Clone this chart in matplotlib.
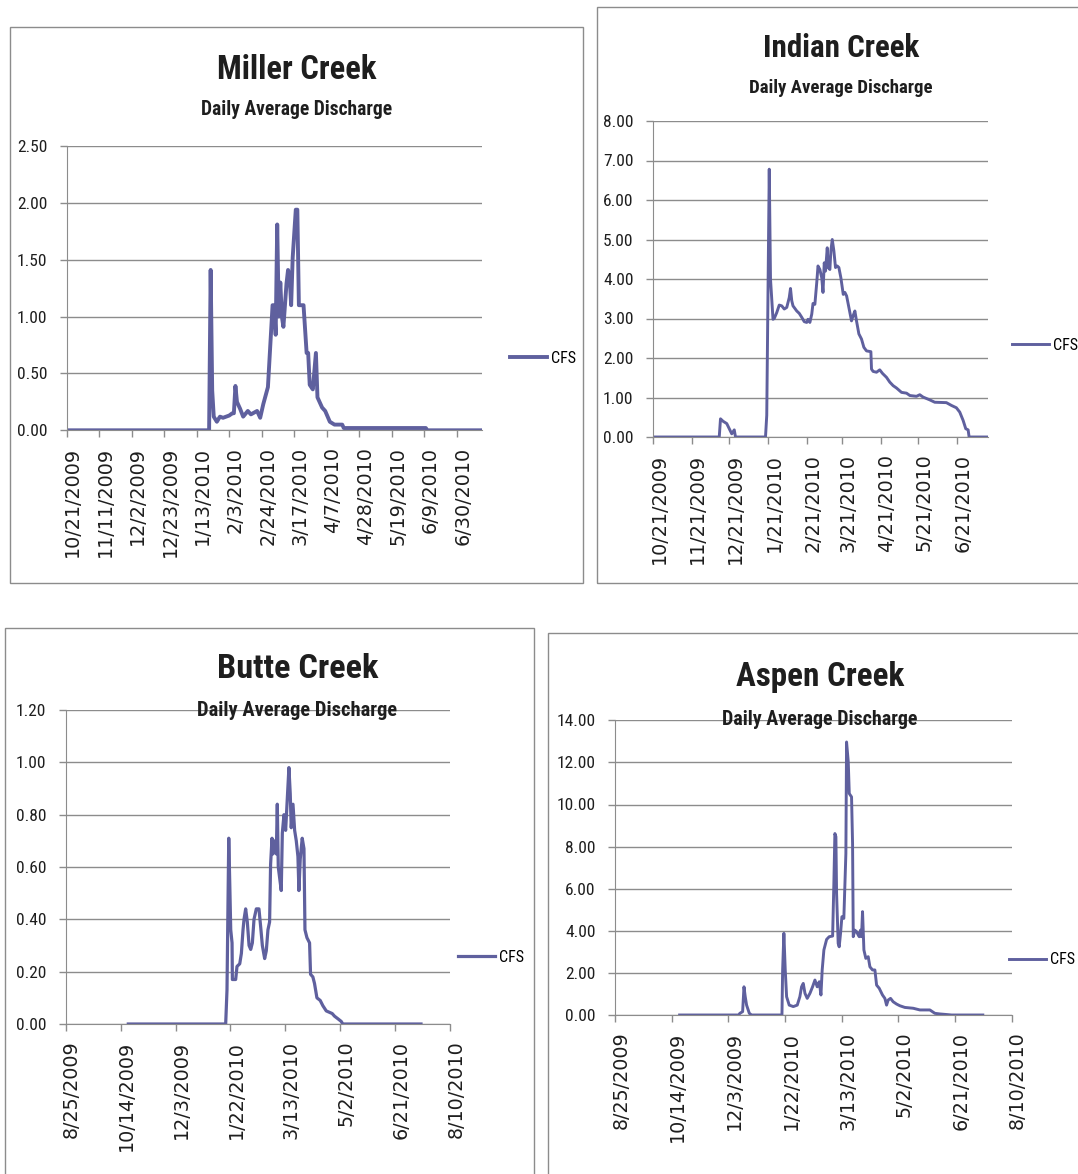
import datetime as dt
import numpy as np
import matplotlib
matplotlib.use('Agg')
import matplotlib.pyplot as plt
import matplotlib.dates as mdates
from matplotlib import font_manager
from matplotlib.font_manager import FontProperties
from matplotlib.patches import Rectangle
from matplotlib.ticker import FormatStrFormatter
from matplotlib.transforms import ScaledTranslation

W, H = 1078, 1174
start = dt.date(2009, 10, 21)   # day 0 of every series

# Miller Creek - days after 10/21/2009, daily average discharge (CFS)
miller_day = [0, 92, 93, 94, 95, 97, 99, 101, 103, 105, 107, 108, 109, 110, 112, 114, 117, 119,
              123, 125, 127, 129, 130, 131, 133, 134, 135, 136, 137, 138, 139, 140, 142, 143, 144,
              145, 146, 148, 149, 150, 153, 155, 156, 157, 159, 161, 162, 165, 167, 170, 173, 178,
              179, 232, 233, 268]
miller_cfs = [0, 0, 1.41, 0.35, 0.12, 0.075, 0.12, 0.11, 0.12, 0.13, 0.15, 0.15, 0.39, 0.25, 0.19,
              0.12, 0.17, 0.14, 0.17, 0.11, 0.23, 0.33, 0.38, 0.62, 1.10, 1.10, 0.84, 1.81, 1.00,
              1.30, 1.00, 0.91, 1.29, 1.41, 1.36, 1.10, 1.52, 1.94, 1.94, 1.10, 1.10, 0.68, 0.68,
              0.40, 0.36, 0.68, 0.29, 0.20, 0.17, 0.075, 0.05, 0.05, 0.02, 0.02, 0, 0]

# Indian Creek
indian_day = [0, 53, 54, 56, 59, 61, 63, 65, 66, 90, 91, 93, 94, 96, 97, 99, 101, 103, 105, 107,
              109, 110, 111, 112, 115, 117, 119, 121, 123, 124, 125.5, 127, 128, 129.5, 131, 132,
              133.5, 135, 136, 137, 138, 139.4, 140.2, 141.5, 142.3, 143.4, 144.7, 146, 147.4,
              148.7, 150.3, 152.2, 153.5, 154.9, 156.7, 158.8, 160.1, 161.5, 162.8, 164.7, 166.8,
              168.7, 170.8, 174.3, 174.8, 176.1, 178.8, 181.4, 183.6, 186.8, 189.4, 192.1, 194.8,
              198.8, 202.8, 205.5, 210.8, 213.4, 216.1, 221.4, 225.4, 234.7, 238.7, 242.7, 245.4,
              248.1, 250.2, 252.1, 252.9, 268]
indian_cfs = [0, 0, 0.46, 0.40, 0.34, 0.21, 0.08, 0.18, 0, 0, 0.55, 6.78, 4.0, 2.98, 3.0, 3.15,
              3.34, 3.32, 3.24, 3.28, 3.53, 3.76, 3.45, 3.32, 3.19, 3.13, 3.03, 2.92, 2.90, 2.98,
              2.90, 3.11, 3.38, 3.36, 3.91, 4.33, 4.24, 4.03, 3.66, 4.41, 4.20, 4.79, 4.29, 4.24,
              4.71, 5.0, 4.71, 4.29, 4.33, 4.29, 4.03, 3.61, 3.66, 3.57, 3.28, 2.94, 3.07, 3.19,
              2.94, 2.61, 2.48, 2.27, 2.18, 2.16, 1.72, 1.66, 1.64, 1.70, 1.61, 1.51, 1.39, 1.30,
              1.24, 1.13, 1.11, 1.05, 1.03, 1.07, 1.01, 0.94, 0.88, 0.87, 0.80, 0.74, 0.63, 0.42,
              0.21, 0.18, 0, 0]

# Butte Creek
butte_day = [0, 88.7, 89.9, 91.5, 92.4, 93.3, 94.5, 94.8, 97.8, 99.0, 101.5, 103.0, 104.5, 105.4,
             106.9, 108.4, 110.0, 111.5, 113.0, 114.5, 116.6, 119.0, 120.6, 122.1, 124.2, 125.7,
             127.2, 128.7, 129.6, 130.9, 131.8, 133.3, 134.8, 135.7, 136.6, 137.8, 139.3, 140.3,
             141.8, 143.3, 144.8, 146.3, 147.5, 148.4, 150.0, 151.5, 153.0, 154.5, 155.4, 156.6,
             158.4, 160.0, 160.9, 162.7, 165.1, 166.0, 168.1, 169.6, 171.8, 174.8, 177.2, 180.3,
             185.7, 187.8, 190.9, 193.9, 195.4, 266.6]
butte_cfs = [0, 0, 0.13, 0.71, 0.54, 0.36, 0.31, 0.17, 0.17, 0.22, 0.23, 0.27, 0.36, 0.40, 0.44,
             0.39, 0.30, 0.285, 0.31, 0.40, 0.44, 0.44, 0.37, 0.30, 0.25, 0.28, 0.36, 0.39, 0.61,
             0.71, 0.65, 0.70, 0.65, 0.84, 0.60, 0.56, 0.51, 0.73, 0.80, 0.74, 0.86, 0.98, 0.88,
             0.75, 0.84, 0.74, 0.70, 0.64, 0.51, 0.63, 0.71, 0.67, 0.36, 0.33, 0.31, 0.19, 0.18,
             0.155, 0.10, 0.09, 0.07, 0.05, 0.04, 0.03, 0.02, 0.01, 0, 0]

# Aspen Creek
aspen_day = [0, 52, 53.2, 55.6, 56.8, 57.9, 59.1, 61.5, 63.5, 90.3, 90.9, 92.0, 93.2, 94.4, 96.7,
             100.3, 103.8, 106.1, 107.6, 109.1, 110.6, 112.6, 115.0, 117.3, 119.4, 121.4, 123.2,
             124.7, 125.8, 127.3, 129.7, 132.0, 135.0, 136.1, 137.0, 137.9, 138.5, 139.9, 140.8,
             142.0, 143.2, 144.9, 146.7, 147.3, 148.8, 149.7, 151.7, 152.6, 153.2, 154.6, 156.1,
             157.6, 158.5, 159.6, 160.5, 161.4, 162.6, 164.3, 166.4, 167.9, 170.2, 172.3, 173.8,
             176.1, 179.0, 181.1, 182.6, 184.0, 186.1, 188.4, 191.4, 194.3, 198.7, 206.1, 212.0,
             220.8, 225.2, 229.6, 236, 240, 267.5]
aspen_cfs = [0, 0, 0.08, 0.16, 1.34, 0.87, 0.47, 0.08, 0, 0, 2.14, 3.88, 2.14, 0.87, 0.47, 0.40,
             0.47, 0.87, 1.34, 1.50, 1.03, 0.79, 1.03, 1.34, 1.66, 1.34, 1.58, 0.95, 2.14, 3.09,
             3.59, 3.72, 3.75, 6.25, 8.62, 8.47, 5.78, 3.40, 3.24, 3.88, 4.67, 4.59, 7.67, 12.97,
             12.03, 10.52, 10.36, 8.15, 3.72, 4.03, 3.96, 3.80, 3.72, 4.03, 3.72, 4.91, 3.09, 2.69,
             2.77, 2.29, 2.14, 2.14, 1.42, 1.27, 0.95, 0.79, 0.47, 0.71, 0.79, 0.63, 0.52, 0.44,
             0.36, 0.32, 0.24, 0.24, 0.08, 0.05, 0.02, 0, 0]

miller_ticks = ['10/21/2009', '11/11/2009', '12/2/2009', '12/23/2009', '1/13/2010', '2/3/2010',
                '2/24/2010', '3/17/2010', '4/7/2010', '4/28/2010', '5/19/2010', '6/9/2010',
                '6/30/2010']
indian_ticks = ['10/21/2009', '11/21/2009', '12/21/2009', '1/21/2010', '2/21/2010', '3/21/2010',
                '4/21/2010', '5/21/2010', '6/21/2010']
late_ticks = ['8/25/2009', '10/14/2009', '12/3/2009', '1/22/2010', '3/13/2010', '5/2/2010',
              '6/21/2010', '8/10/2010']

LINE = '#5f609e'
GRAY = '#8c8c8c'
INK = '#1e1e1e'

# look for a narrow / condensed face (the Excel text is very tight)
entries = [(f.name, f.stretch) for f in font_manager.fontManager.ttflist]
narrow = None
for fam in ['Liberation Sans Narrow', 'Roboto Condensed', 'Open Sans Condensed',
            'Noto Sans Condensed', 'DejaVu Sans Condensed']:
    if any(n == fam for n, s in entries):
        narrow = {'family': fam}
        break
if narrow is None:
    for n, s in entries:
        if n in ('DejaVu Sans', 'Noto Sans', 'Open Sans', 'Roboto') and 'condensed' in str(s):
            narrow = {'family': n, 'stretch': s}
            break
if narrow is None:
    narrow = {'family': 'DejaVu Sans'}


def nfont(size, weight='normal'):
    return FontProperties(size=size, weight=weight, **narrow)


fig = plt.figure(figsize=(W / 100, H / 100), dpi=100)
renderer = fig.canvas.get_renderer()
t0 = mdates.date2num(start)


def to_num(s):
    return mdates.date2num(dt.datetime.strptime(s, '%m/%d/%Y'))


def fit(txt, width_px):
    w = txt.get_window_extent(renderer).width
    txt.set_fontsize(txt.get_fontsize() * width_px / w)


def panel(box, axbox, title, tpos, spos, days, cfs, ymax, ystep, ticks, xlim, leg, lw):
    x0, y0, x1, y1 = box
    fig.add_artist(Rectangle((x0 / W, 1 - y1 / H), (x1 - x0) / W, (y1 - y0) / H,
                             transform=fig.transFigure, fill=False, edgecolor=GRAY, lw=1))
    l, t, r, b = axbox
    ax = fig.add_axes([l / W, 1 - b / H, (r - l) / W, (b - t) / H])
    ax.plot(t0 + np.array(days), cfs, color=LINE, lw=lw, label='CFS', solid_joinstyle='round')
    ax.set_xlim(xlim)
    ax.set_ylim(0, ymax)
    ax.set_yticks(np.arange(0, ymax + ystep / 2, ystep))
    ax.yaxis.set_major_formatter(FormatStrFormatter('%.2f'))
    ax.set_xticks([to_num(s) for s in ticks])
    ax.set_xticklabels(ticks, rotation=90, fontsize=13.8, family='DejaVu Sans')
    ax.grid(axis='y', color=GRAY, lw=1)
    ax.set_axisbelow(True)
    for s in ['top', 'right']:
        ax.spines[s].set_visible(False)
    for s in ['left', 'bottom']:
        ax.spines[s].set_color(GRAY)
    ax.tick_params(axis='both', colors=GRAY, labelcolor=INK, length=5, width=1)
    ax.tick_params(axis='x', pad=7)
    ax.tick_params(axis='y', pad=9)
    for lab in ax.get_yticklabels():
        lab.set_fontproperties(nfont(12.5))
    off = ScaledTranslation(0.06, 0, fig.dpi_scale_trans)
    for lab in ax.get_xticklabels():
        lab.set_transform(lab.get_transform() + off)

    tt = fig.text(tpos[0] / W, 1 - tpos[1] / H, title, ha='center', va='baseline',
                  fontproperties=nfont(25, 'bold'), color=INK)
    fit(tt, tpos[2])
    st = fig.text(spos[0] / W, 1 - spos[1] / H, 'Daily Average Discharge', ha='center',
                  va='baseline', fontproperties=nfont(14, 'bold'), color=INK)
    fit(st, spos[2])
    ax.legend(loc='center left', bbox_to_anchor=leg, frameon=False, borderpad=0,
              borderaxespad=0, handlelength=2.3, handletextpad=0.25, prop=nfont(11.5))
    return ax


late_lim = (to_num('8/25/2009'), to_num('8/10/2010'))

panel((10, 27, 583, 583), (66.7, 146, 482, 430.3), 'Miller Creek', (297, 79, 160),
      (297, 115, 192), miller_day, miller_cfs, 2.5, 0.5, miller_ticks, (t0, t0 + 268.3),
      (1.067, 0.254), 2.8)
panel((597, 7, 1090, 583), (653, 121, 988, 437), 'Indian Creek', (841, 57, 157),
      (841, 93, 184), indian_day, indian_cfs, 8, 1, indian_ticks, (t0, t0 + 268),
      (1.072, 0.291), 2.1)
panel((5, 628, 534, 1190), (65.7, 710, 450, 1024), 'Butte Creek', (298, 678, 162),
      (297, 716, 202), butte_day, butte_cfs, 1.2, 0.2, late_ticks, late_lim,
      (1.021, 0.213), 2.3)
panel((548, 633, 1090, 1190), (615, 720.3, 1011.7, 1015), 'Aspen Creek', (820, 686, 169),
      (820, 725, 197), aspen_day, aspen_cfs, 14, 2, late_ticks, late_lim,
      (0.993, 0.187), 2.1)

fig.savefig('out.png', dpi=100)
